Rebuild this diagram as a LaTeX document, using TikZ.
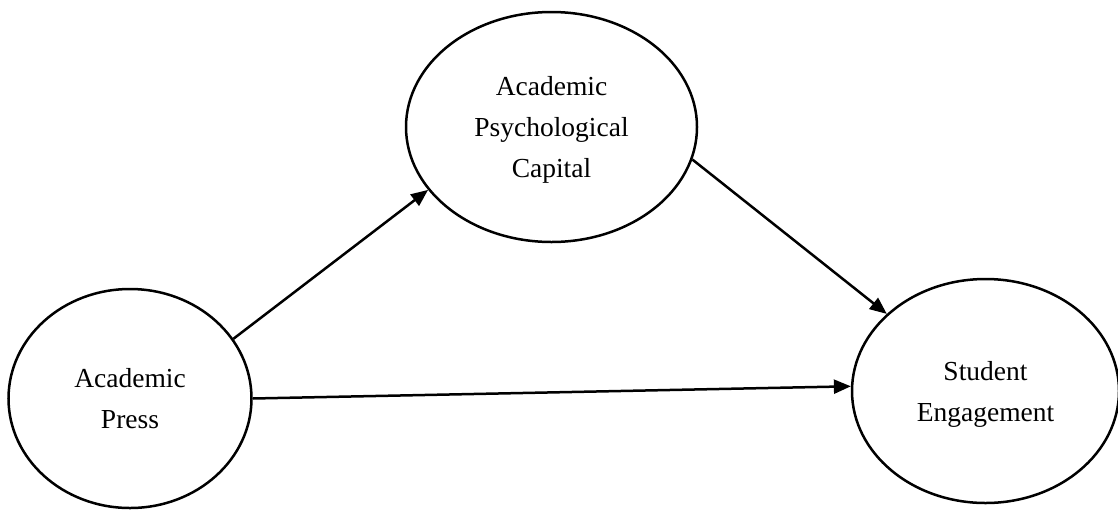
\documentclass[tikz,border=0pt]{standalone}
\usepackage{fontspec}
\setmainfont{Liberation Serif}
\usetikzlibrary{shapes.geometric,arrows.meta}
\begin{document}
\begin{tikzpicture}[x=1pt,y=-1pt,
  construct/.style={draw,line width=2.5pt,ellipse,inner sep=0pt,align=center,text depth=0pt,
    font=\fontsize{27.5}{41}\selectfont},
  path/.style={line width=2.5pt,-{Triangle[length=17pt,width=14pt]}}]
\useasboundingbox[fill=white] (0,0) rectangle (1118,509);
\node[construct,minimum width=243pt,minimum height=219pt] (press) at (130,398.5) {Academic\\Press};
\node[construct,minimum width=291pt,minimum height=230pt] (capital) at (551.5,127) {Academic\\Psychological\\Capital};
\node[construct,minimum width=267pt,minimum height=224pt] (student) at (985.5,391) {Student\\Engagement};
\draw[path] (press.30.7) -- (capital.207.8);
\draw[path] (press.0) -- (student.178.3);
\draw[path] (capital.-13.2) -- (student.142.9);
\end{tikzpicture}
\end{document}
